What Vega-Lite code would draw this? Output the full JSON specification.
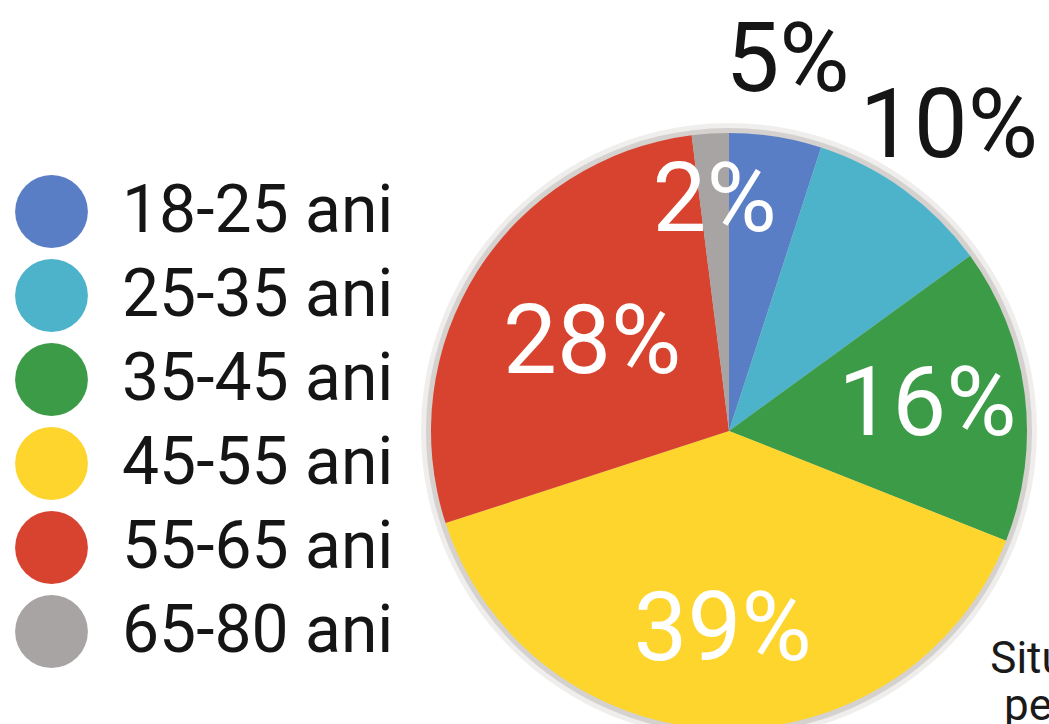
{
  "$schema": "https://vega.github.io/schema/vega-lite/v6.json",
  "width": 600,
  "height": 600,
  "autosize": {"type": "none"},
  "padding": {"left": 429, "top": 131, "right": 20, "bottom": 0},
  "background": "#ffffff",
  "title": {
    "text": ["Situ", "pe"],
    "orient": "bottom",
    "anchor": "start",
    "align": "center",
    "frame": "group",
    "baseline": "alphabetic",
    "offset": 0,
    "dx": 599,
    "dy": -180,
    "font": "Roboto",
    "fontSize": 44,
    "fontWeight": "normal",
    "lineHeight": 47,
    "color": "#1a1a1a"
  },
  "data": {
    "values": [
      {"age": "18-25 ani", "pct": 5, "label": "5%"},
      {"age": "25-35 ani", "pct": 10, "label": "10%"},
      {"age": "35-45 ani", "pct": 16, "label": "16%"},
      {"age": "45-55 ani", "pct": 39, "label": "39%"},
      {"age": "55-65 ani", "pct": 28, "label": "28%"},
      {"age": "65-80 ani", "pct": 2, "label": "2%"}
    ]
  },
  "encoding": {
    "theta": {"field": "pct", "type": "quantitative", "stack": true, "scale": {"domain": [0, 100]}},
    "order": {"field": "age", "type": "ordinal", "sort": "ascending"}
  },
  "layer": [
    {
      "mark": {"type": "arc", "radius": 308, "color": "#8f8880", "opacity": 0.14},
      "encoding": {"detail": {"field": "age", "type": "nominal"}}
    },
    {
      "mark": {"type": "arc", "radius": 303, "color": "#8f8880", "opacity": 0.28},
      "encoding": {"detail": {"field": "age", "type": "nominal"}}
    },
    {
      "mark": {"type": "arc", "radius": 298},
      "encoding": {
        "color": {
          "field": "age",
          "type": "nominal",
          "scale": {
            "domain": ["18-25 ani", "25-35 ani", "35-45 ani", "45-55 ani", "55-65 ani", "65-80 ani"],
            "range": ["#5a7ec6", "#4db3cb", "#3c9b47", "#fdd52c", "#d8432f", "#a7a4a3"]
          },
          "legend": {
            "orient": "none",
            "legendX": -414,
            "legendY": 44,
            "title": null,
            "symbolType": "circle",
            "symbolSize": 5300,
            "symbolStrokeWidth": 0,
            "symbolOpacity": 1,
            "labelFont": "Roboto",
            "labelFontSize": 66,
            "labelColor": "#151515",
            "labelOffset": 34,
            "labelLimit": 500,
            "rowPadding": 11,
            "padding": 0
          }
        }
      }
    },
    {
      "mark": {"type": "text", "radius": 374, "font": "Roboto", "fontSize": 96, "color": "#151515"},
      "encoding": {
        "detail": {"field": "age", "type": "nominal"},
        "text": {"condition": {"test": "datum.pct == 5 || datum.pct == 10", "field": "label"}, "value": ""}
      }
    },
    {
      "mark": {"type": "text", "radius": 200, "font": "Roboto", "fontSize": 96, "color": "#ffffff"},
      "encoding": {
        "detail": {"field": "age", "type": "nominal"},
        "text": {"condition": {"test": "datum.pct == 16 || datum.pct == 39", "field": "label"}, "value": ""}
      }
    },
    {
      "mark": {"type": "text", "radius": 162, "font": "Roboto", "fontSize": 96, "color": "#ffffff"},
      "encoding": {
        "detail": {"field": "age", "type": "nominal"},
        "text": {"condition": {"test": "datum.pct == 28", "field": "label"}, "value": ""}
      }
    },
    {
      "mark": {"type": "text", "radius": 229, "font": "Roboto", "fontSize": 96, "color": "#ffffff"},
      "encoding": {
        "detail": {"field": "age", "type": "nominal"},
        "text": {"condition": {"test": "datum.pct == 2", "field": "label"}, "value": ""}
      }
    }
  ],
  "config": {"view": {"stroke": null}}
}
